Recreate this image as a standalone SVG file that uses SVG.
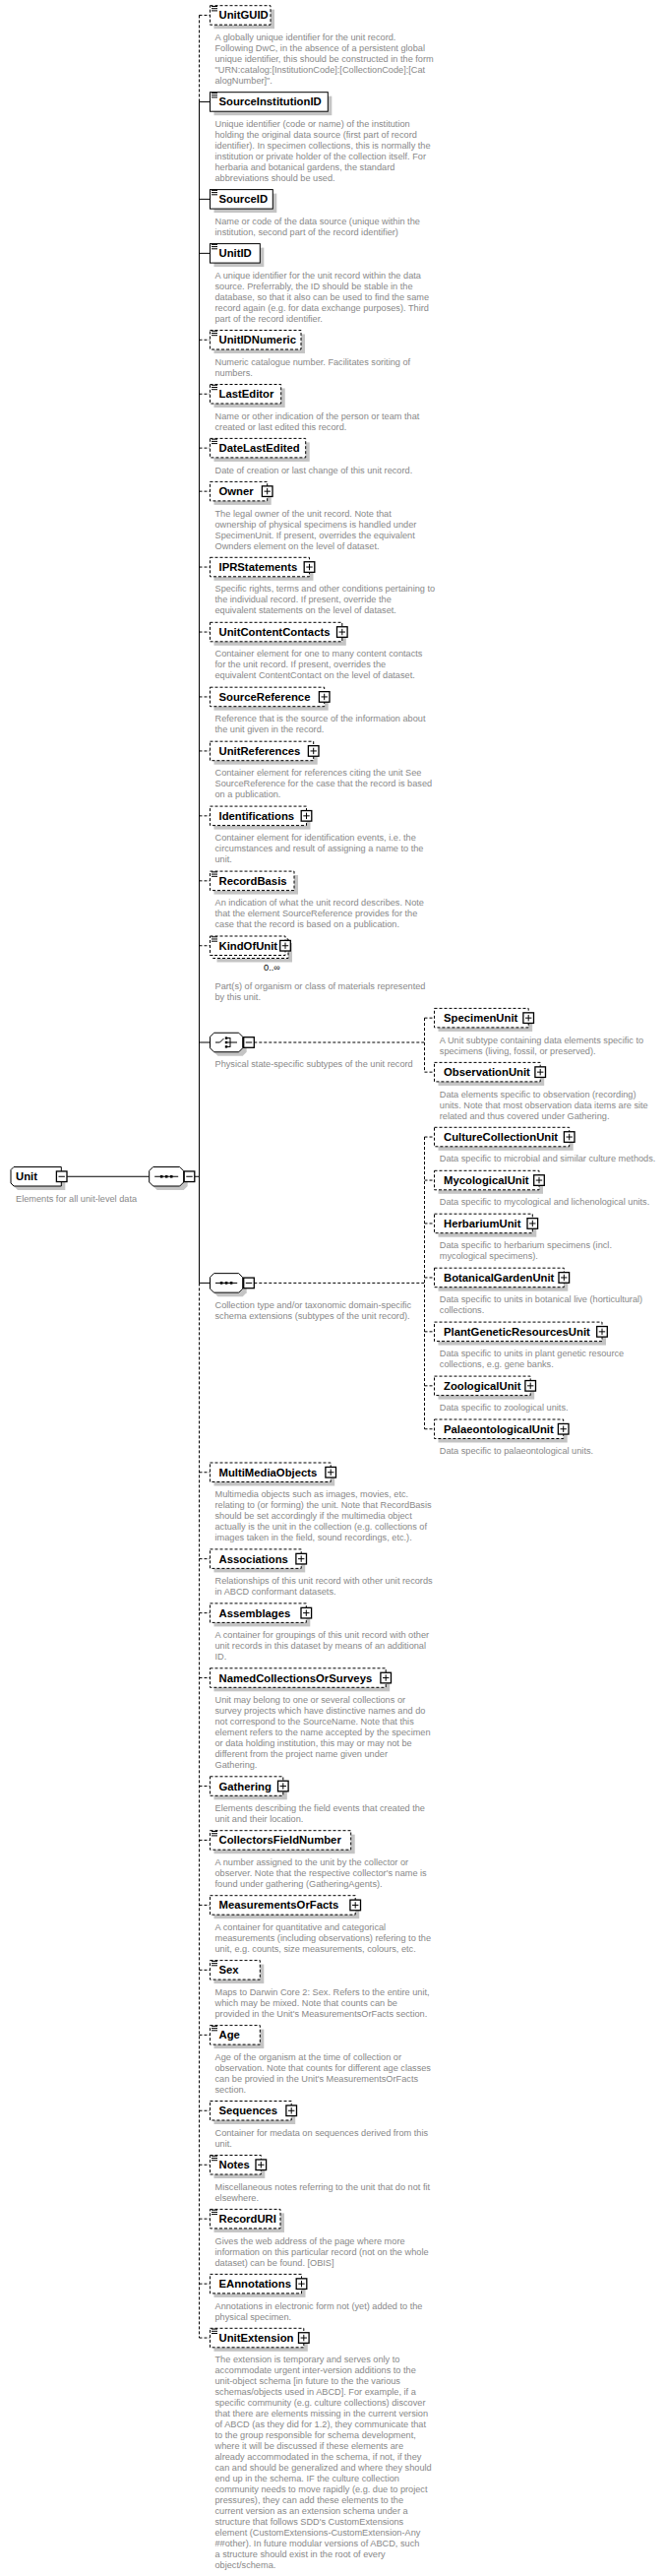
<svg xmlns="http://www.w3.org/2000/svg" width="677" height="2617" viewBox="0 0 677 2617">
<style>
.bx{fill:#fff;stroke:#000;stroke-width:1}
.o{stroke-dasharray:3,2}
.sh{fill:#c4c4c4}
.n{font-family:"Liberation Sans",Arial,sans-serif;font-weight:bold;font-size:11.3px;fill:#000}
.d{font-family:"Liberation Sans",Arial,sans-serif;font-size:9.2px;fill:#888}
.occ{font-family:"Liberation Sans",Arial,sans-serif;font-size:9.3px;fill:#000}
.ln{stroke:#000;stroke-width:1;fill:none}
.dl{stroke-dasharray:3,2}
</style>
<defs>
<g id="plus"><rect x="-5.3" y="-5.3" width="10.6" height="10.6" fill="#fff" stroke="#000" stroke-width="1.3"/><path d="M-3.2 0H3.2M0 -3.2V3.2" stroke="#000" stroke-width="1"/></g>
<g id="minus"><rect x="-5.3" y="-5.3" width="10.6" height="10.6" fill="#fff" stroke="#000" stroke-width="1.3"/><path d="M-3.2 0H3.2" stroke="#000" stroke-width="1"/></g>
<g id="doc"><path d="M0 0.5H6M0 2.7H6M0 4.9H6" stroke="#000" stroke-width="1"/></g>
</defs>

<g id="connectors">
<path class="ln dl" d="M202.5 15.45V103.45"/>
<path class="ln" d="M202.5 103.45V1303.4"/>
<path class="ln dl" d="M202.5 1303.4V2375.05"/>
<path class="ln" d="M202.5 103.45H213.5M202.5 202.35H213.5M202.5 257.35H213.5M202.5 1059H213.5M202.5 1303.4H213.5"/>
<path class="ln dl" d="M202.5 15.45H213.5M202.5 345.25H213.5M202.5 400.25H213.5M202.5 455.15H213.5M202.5 499.15H213.5M202.5 576.05H213.5M202.5 642.05H213.5M202.5 707.95H213.5M202.5 762.95H213.5M202.5 828.85H213.5M202.5 894.85H213.5M202.5 960.75H213.5M202.5 1495.75H213.5M202.5 1583.65H213.5M202.5 1638.65H213.5M202.5 1704.55H213.5M202.5 1814.55H213.5M202.5 1869.45H213.5M202.5 1935.45H213.5M202.5 2001.35H213.5M202.5 2067.35H213.5M202.5 2144.25H213.5M202.5 2199.25H213.5M202.5 2254.15H213.5M202.5 2320.15H213.5M202.5 2375.05H213.5"/>
<path class="ln dl" d="M258.3 1059H431.5M431.5 1034.15V1089.15M431.5 1034.15H441.5M431.5 1089.15H441.5"/>
<path class="ln dl" d="M258.3 1303.4H431.5M431.5 1155.05V1451.75M431.5 1155.05H441.5M431.5 1199.05H441.5M431.5 1242.95H441.5M431.5 1297.95H441.5M431.5 1352.85H441.5M431.5 1407.85H441.5M431.5 1451.75H441.5"/>
<path class="ln" d="M68.2 1195.25H151.7M198 1195.25H202.5"/>
</g>

<g id="Unit">
<path class="sh" d="M18 1189.5H66.3V1209H18L15 1206V1192.5Z"/>
<path class="bx" d="M14 1185.5H62.3V1205H14L11 1202V1188.5Z"/>
<use href="#minus" x="62.7" y="1195.25"/>
<text class="n" x="16" y="1199">Unit</text>
<text class="d" x="16" y="1220.8">Elements for all unit-level data</text>
</g>

<g id="UnitSequence">
<polygon class="sh" points="159.7,1189.5 186.7,1189.5 190.7,1193.5 190.7,1205 186.7,1209 159.7,1209 155.7,1205 155.7,1193.5"/>
<polygon class="bx" points="155.7,1185.5 182.7,1185.5 186.7,1189.5 186.7,1201 182.7,1205 155.7,1205 151.7,1201 151.7,1189.5"/>
<path class="ln" d="M157.2 1195.25H181.2"/>
<rect x="162.9" y="1194" width="2.6" height="2.6" fill="#000"/><rect x="167.9" y="1194" width="2.6" height="2.6" fill="#000"/><rect x="172.9" y="1194" width="2.6" height="2.6" fill="#000"/>
<use href="#minus" x="192.5" y="1195.25"/>
</g>

<g id="UnitGUID">
<rect class="sh" x="217.5" y="9.7" width="61.5" height="19.5"/>
<rect class="bx o" x="213.5" y="5.7" width="61.5" height="19.5"/>
<use href="#doc" x="215" y="6"/>
<text class="n" x="222.5" y="19.4">UnitGUID</text>
<text class="d" x="218.5" y="40.8"><tspan x="218.5">A globally unique identifier for the unit record.</tspan><tspan x="218.5" dy="11">Following DwC, in the absence of a persistent global</tspan><tspan x="218.5" dy="11">unique identifier, this should be constructed in the form</tspan><tspan x="218.5" dy="11">"URN:catalog:[InstitutionCode]:[CollectionCode]:[Cat</tspan><tspan x="218.5" dy="11">alogNumber]".</tspan></text>
</g>

<g id="SourceInstitutionID">
<rect class="sh" x="217.5" y="97.7" width="119.8" height="19.5"/>
<rect class="bx" x="213.5" y="93.7" width="119.8" height="19.5"/>
<use href="#doc" x="215" y="94"/>
<text class="n" x="222.5" y="107.4">SourceInstitutionID</text>
<text class="d" x="218.5" y="128.8"><tspan x="218.5">Unique identifier (code or name) of the institution</tspan><tspan x="218.5" dy="11">holding the original data source (first part of record</tspan><tspan x="218.5" dy="11">identifier). In specimen collections, this is normally the</tspan><tspan x="218.5" dy="11">institution or private holder of the collection itself. For</tspan><tspan x="218.5" dy="11">herbaria and botanical gardens, the standard</tspan><tspan x="218.5" dy="11">abbreviations should be used.</tspan></text>
</g>

<g id="SourceID">
<rect class="sh" x="217.5" y="196.6" width="63.8" height="19.5"/>
<rect class="bx" x="213.5" y="192.6" width="63.8" height="19.5"/>
<use href="#doc" x="215" y="192.9"/>
<text class="n" x="222.5" y="206.3">SourceID</text>
<text class="d" x="218.5" y="227.7"><tspan x="218.5">Name or code of the data source (unique within the</tspan><tspan x="218.5" dy="11">institution, second part of the record identifier)</tspan></text>
</g>

<g id="UnitID">
<rect class="sh" x="217.5" y="251.6" width="50.8" height="19.5"/>
<rect class="bx" x="213.5" y="247.6" width="50.8" height="19.5"/>
<use href="#doc" x="215" y="247.9"/>
<text class="n" x="222.5" y="261.3">UnitID</text>
<text class="d" x="218.5" y="282.7"><tspan x="218.5">A unique identifier for the unit record within the data</tspan><tspan x="218.5" dy="11">source. Preferrably, the ID should be stable in the</tspan><tspan x="218.5" dy="11">database, so that it also can be used to find the same</tspan><tspan x="218.5" dy="11">record again (e.g. for data exchange purposes). Third</tspan><tspan x="218.5" dy="11">part of the record identifier.</tspan></text>
</g>

<g id="UnitIDNumeric">
<rect class="sh" x="217.5" y="339.5" width="92.5" height="19.5"/>
<rect class="bx o" x="213.5" y="335.5" width="92.5" height="19.5"/>
<use href="#doc" x="215" y="335.8"/>
<text class="n" x="222.5" y="349.2">UnitIDNumeric</text>
<text class="d" x="218.5" y="370.6"><tspan x="218.5">Numeric catalogue number. Facilitates soriting of</tspan><tspan x="218.5" dy="11">numbers.</tspan></text>
</g>

<g id="LastEditor">
<rect class="sh" x="217.5" y="394.5" width="72.2" height="19.5"/>
<rect class="bx o" x="213.5" y="390.5" width="72.2" height="19.5"/>
<use href="#doc" x="215" y="390.8"/>
<text class="n" x="222.5" y="404.2">LastEditor</text>
<text class="d" x="218.5" y="425.6"><tspan x="218.5">Name or other indication of the person or team that</tspan><tspan x="218.5" dy="11">created or last edited this record.</tspan></text>
</g>

<g id="DateLastEdited">
<rect class="sh" x="217.5" y="449.4" width="97.2" height="19.5"/>
<rect class="bx o" x="213.5" y="445.4" width="97.2" height="19.5"/>
<use href="#doc" x="215" y="445.7"/>
<text class="n" x="222.5" y="459.1">DateLastEdited</text>
<text class="d" x="218.5" y="480.5">Date of creation or last change of this unit record.</text>
</g>

<g id="Owner">
<rect class="sh" x="217.5" y="493.4" width="58.2" height="19.5"/>
<rect class="bx o" x="213.5" y="489.4" width="58.2" height="19.5"/>
<text class="n" x="222.5" y="503.1">Owner</text>
<use href="#plus" x="271.7" y="499.15"/>
<text class="d" x="218.5" y="524.5"><tspan x="218.5">The legal owner of the unit record. Note that</tspan><tspan x="218.5" dy="11">ownership of physical specimens is handled under</tspan><tspan x="218.5" dy="11">SpecimenUnit. If present, overrides the equivalent</tspan><tspan x="218.5" dy="11">Ownders element on the level of dataset.</tspan></text>
</g>

<g id="IPRStatements">
<rect class="sh" x="217.5" y="570.3" width="101" height="19.5"/>
<rect class="bx o" x="213.5" y="566.3" width="101" height="19.5"/>
<text class="n" x="222.5" y="580">IPRStatements</text>
<use href="#plus" x="314.5" y="576.05"/>
<text class="d" x="218.5" y="601.4"><tspan x="218.5">Specific rights, terms and other conditions pertaining to</tspan><tspan x="218.5" dy="11">the individual record. If present, override the</tspan><tspan x="218.5" dy="11">equivalent statements on the level of dataset.</tspan></text>
</g>

<g id="UnitContentContacts">
<rect class="sh" x="217.5" y="636.3" width="134.3" height="19.5"/>
<rect class="bx o" x="213.5" y="632.3" width="134.3" height="19.5"/>
<text class="n" x="222.5" y="646">UnitContentContacts</text>
<use href="#plus" x="347.8" y="642.05"/>
<text class="d" x="218.5" y="667.4"><tspan x="218.5">Container element for one to many content contacts</tspan><tspan x="218.5" dy="11">for the unit record. If present, overrides the</tspan><tspan x="218.5" dy="11">equivalent ContentContact on the level of dataset.</tspan></text>
</g>

<g id="SourceReference">
<rect class="sh" x="217.5" y="702.2" width="116.2" height="19.5"/>
<rect class="bx o" x="213.5" y="698.2" width="116.2" height="19.5"/>
<text class="n" x="222.5" y="711.9">SourceReference</text>
<use href="#plus" x="329.7" y="707.95"/>
<text class="d" x="218.5" y="733.3"><tspan x="218.5">Reference that is the source of the information about</tspan><tspan x="218.5" dy="11">the unit given in the record.</tspan></text>
</g>

<g id="UnitReferences">
<rect class="sh" x="217.5" y="757.2" width="105.2" height="19.5"/>
<rect class="bx o" x="213.5" y="753.2" width="105.2" height="19.5"/>
<text class="n" x="222.5" y="766.9">UnitReferences</text>
<use href="#plus" x="318.7" y="762.95"/>
<text class="d" x="218.5" y="788.3"><tspan x="218.5">Container element for references citing the unit See</tspan><tspan x="218.5" dy="11">SourceReference for the case that the record is based</tspan><tspan x="218.5" dy="11">on a publication.</tspan></text>
</g>

<g id="Identifications">
<rect class="sh" x="217.5" y="823.1" width="98" height="19.5"/>
<rect class="bx o" x="213.5" y="819.1" width="98" height="19.5"/>
<text class="n" x="222.5" y="832.8">Identifications</text>
<use href="#plus" x="311.5" y="828.85"/>
<text class="d" x="218.5" y="854.2"><tspan x="218.5">Container element for identification events, i.e. the</tspan><tspan x="218.5" dy="11">circumstances and result of assigning a name to the</tspan><tspan x="218.5" dy="11">unit.</tspan></text>
</g>

<g id="RecordBasis">
<rect class="sh" x="217.5" y="889.1" width="85.5" height="19.5"/>
<rect class="bx o" x="213.5" y="885.1" width="85.5" height="19.5"/>
<use href="#doc" x="215" y="885.4"/>
<text class="n" x="222.5" y="898.8">RecordBasis</text>
<text class="d" x="218.5" y="920.2"><tspan x="218.5">An indication of what the unit record describes. Note</tspan><tspan x="218.5" dy="11">that the element SourceReference provides for the</tspan><tspan x="218.5" dy="11">case that the record is based on a publication.</tspan></text>
</g>

<g id="KindOfUnit">
<rect class="sh" x="220.5" y="958" width="76.5" height="19.5"/>
<rect class="bx o" x="216.5" y="954" width="76.5" height="19.5"/>
<rect class="bx o" x="213.5" y="951" width="76.5" height="19.5"/>
<use href="#doc" x="215" y="951.3"/>
<text class="n" x="222.5" y="964.7">KindOfUnit</text>
<use href="#plus" x="290" y="960.75"/>
<text class="occ" x="285" y="986" text-anchor="end">0..∞</text>
<text class="d" x="218.5" y="1004.7"><tspan x="218.5">Part(s) of organism or class of materials represented</tspan><tspan x="218.5" dy="11">by this unit.</tspan></text>
</g>

<g id="PhysicalStateChoice">
<polygon class="sh" points="221.5,1053.25 246.7,1053.25 250.7,1057.25 250.7,1068.75 246.7,1072.75 221.5,1072.75 217.5,1068.75 217.5,1057.25"/>
<polygon class="bx" points="217.5,1049.25 242.7,1049.25 246.7,1053.25 246.7,1064.75 242.7,1068.75 217.5,1068.75 213.5,1064.75 213.5,1053.25"/>
<path class="ln" d="M219 1059H223.5L227.5 1055"/>
<rect x="228.8" y="1053.4" width="2.4" height="2.4" fill="#000"/><rect x="228.8" y="1057.8" width="2.4" height="2.4" fill="#000"/><rect x="228.8" y="1062.2" width="2.4" height="2.4" fill="#000"/>
<path class="ln" d="M231 1054.6H234M231 1059H234M231 1063.4H234M234 1054.1V1063.9M234 1059H241"/>
<use href="#minus" x="253" y="1059"/>
<text class="d" x="218.5" y="1084.4">Physical state-specific subtypes of the unit record</text>
</g>

<g id="SpecimenUnit">
<rect class="sh" x="445.5" y="1028.4" width="95.7" height="19.5"/>
<rect class="bx o" x="441.5" y="1024.4" width="95.7" height="19.5"/>
<text class="n" x="451" y="1038.1">SpecimenUnit</text>
<use href="#plus" x="537.2" y="1034.15"/>
<text class="d" x="446.8" y="1059.5"><tspan x="446.8">A Unit subtype containing data elements specific to</tspan><tspan x="446.8" dy="11">specimens (living, fossil, or preserved).</tspan></text>
</g>

<g id="ObservationUnit">
<rect class="sh" x="445.5" y="1083.4" width="107.7" height="19.5"/>
<rect class="bx o" x="441.5" y="1079.4" width="107.7" height="19.5"/>
<text class="n" x="451" y="1093.1">ObservationUnit</text>
<use href="#plus" x="549.2" y="1089.15"/>
<text class="d" x="446.8" y="1114.5"><tspan x="446.8">Data elements specific to observation (recording)</tspan><tspan x="446.8" dy="11">units. Note that most observation data items are site</tspan><tspan x="446.8" dy="11">related and thus covered under Gathering.</tspan></text>
</g>

<g id="CultureCollectionUnit">
<rect class="sh" x="445.5" y="1149.3" width="137.2" height="19.5"/>
<rect class="bx o" x="441.5" y="1145.3" width="137.2" height="19.5"/>
<text class="n" x="451" y="1159">CultureCollectionUnit</text>
<use href="#plus" x="578.7" y="1155.05"/>
<text class="d" x="446.8" y="1180.4">Data specific to microbial and similar culture methods.</text>
</g>

<g id="MycologicalUnit">
<rect class="sh" x="445.5" y="1193.3" width="106.5" height="19.5"/>
<rect class="bx o" x="441.5" y="1189.3" width="106.5" height="19.5"/>
<text class="n" x="451" y="1203">MycologicalUnit</text>
<use href="#plus" x="548" y="1199.05"/>
<text class="d" x="446.8" y="1224.4">Data specific to mycological and lichenological units.</text>
</g>

<g id="HerbariumUnit">
<rect class="sh" x="445.5" y="1237.2" width="99.8" height="19.5"/>
<rect class="bx o" x="441.5" y="1233.2" width="99.8" height="19.5"/>
<text class="n" x="451" y="1246.9">HerbariumUnit</text>
<use href="#plus" x="541.3" y="1242.95"/>
<text class="d" x="446.8" y="1268.3"><tspan x="446.8">Data specific to herbarium specimens (incl.</tspan><tspan x="446.8" dy="11">mycological specimens).</tspan></text>
</g>

<g id="BotanicalGardenUnit">
<rect class="sh" x="445.5" y="1292.2" width="131.8" height="19.5"/>
<rect class="bx o" x="441.5" y="1288.2" width="131.8" height="19.5"/>
<text class="n" x="451" y="1301.9">BotanicalGardenUnit</text>
<use href="#plus" x="573.3" y="1297.95"/>
<text class="d" x="446.8" y="1323.3"><tspan x="446.8">Data specific to units in botanical live (horticultural)</tspan><tspan x="446.8" dy="11">collections.</tspan></text>
</g>

<g id="PlantGeneticResourcesUnit">
<rect class="sh" x="445.5" y="1347.1" width="170.5" height="19.5"/>
<rect class="bx o" x="441.5" y="1343.1" width="170.5" height="19.5"/>
<text class="n" x="451" y="1356.8">PlantGeneticResourcesUnit</text>
<use href="#plus" x="612" y="1352.85"/>
<text class="d" x="446.8" y="1378.2"><tspan x="446.8">Data specific to units in plant genetic resource</tspan><tspan x="446.8" dy="11">collections, e.g. gene banks.</tspan></text>
</g>

<g id="ZoologicalUnit">
<rect class="sh" x="445.5" y="1402.1" width="97.7" height="19.5"/>
<rect class="bx o" x="441.5" y="1398.1" width="97.7" height="19.5"/>
<text class="n" x="451" y="1411.8">ZoologicalUnit</text>
<use href="#plus" x="539.2" y="1407.85"/>
<text class="d" x="446.8" y="1433.2">Data specific to zoological units.</text>
</g>

<g id="PalaeontologicalUnit">
<rect class="sh" x="445.5" y="1446" width="131.2" height="19.5"/>
<rect class="bx o" x="441.5" y="1442" width="131.2" height="19.5"/>
<text class="n" x="451" y="1455.7">PalaeontologicalUnit</text>
<use href="#plus" x="572.7" y="1451.75"/>
<text class="d" x="446.8" y="1477.1">Data specific to palaeontological units.</text>
</g>

<g id="CollectionTypeSequence">
<polygon class="sh" points="221.5,1297.65 246.7,1297.65 250.7,1301.65 250.7,1313.15 246.7,1317.15 221.5,1317.15 217.5,1313.15 217.5,1301.65"/>
<polygon class="bx" points="217.5,1293.65 242.7,1293.65 246.7,1297.65 246.7,1309.15 242.7,1313.15 217.5,1313.15 213.5,1309.15 213.5,1297.65"/>
<path class="ln" d="M219 1303.4H241.2"/>
<rect x="223.8" y="1302.1" width="2.6" height="2.6" fill="#000"/><rect x="228.8" y="1302.1" width="2.6" height="2.6" fill="#000"/><rect x="233.8" y="1302.1" width="2.6" height="2.6" fill="#000"/>
<use href="#minus" x="253" y="1303.4"/>
<text class="d" x="218.5" y="1328.8"><tspan x="218.5">Collection type and/or taxonomic domain-specific</tspan><tspan x="218.5" dy="11">schema extensions (subtypes of the unit record).</tspan></text>
</g>

<g id="MultiMediaObjects">
<rect class="sh" x="217.5" y="1490" width="122.7" height="19.5"/>
<rect class="bx o" x="213.5" y="1486" width="122.7" height="19.5"/>
<text class="n" x="222.5" y="1499.7">MultiMediaObjects</text>
<use href="#plus" x="336.2" y="1495.75"/>
<text class="d" x="218.5" y="1521.1"><tspan x="218.5">Multimedia objects such as images, movies, etc.</tspan><tspan x="218.5" dy="11">relating to (or forming) the unit. Note that RecordBasis</tspan><tspan x="218.5" dy="11">should be set accordingly if the multimedia object</tspan><tspan x="218.5" dy="11">actually is the unit in the collection (e.g. collections of</tspan><tspan x="218.5" dy="11">images taken in the field, sound recordings, etc.).</tspan></text>
</g>

<g id="Associations">
<rect class="sh" x="217.5" y="1577.9" width="92.7" height="19.5"/>
<rect class="bx o" x="213.5" y="1573.9" width="92.7" height="19.5"/>
<text class="n" x="222.5" y="1587.6">Associations</text>
<use href="#plus" x="306.2" y="1583.65"/>
<text class="d" x="218.5" y="1609"><tspan x="218.5">Relationships of this unit record with other unit records</tspan><tspan x="218.5" dy="11">in ABCD conformant datasets.</tspan></text>
</g>

<g id="Assemblages">
<rect class="sh" x="217.5" y="1632.9" width="97.8" height="19.5"/>
<rect class="bx o" x="213.5" y="1628.9" width="97.8" height="19.5"/>
<text class="n" x="222.5" y="1642.6">Assemblages</text>
<use href="#plus" x="311.3" y="1638.65"/>
<text class="d" x="218.5" y="1664"><tspan x="218.5">A container for groupings of this unit record with other</tspan><tspan x="218.5" dy="11">unit records in this dataset by means of an additional</tspan><tspan x="218.5" dy="11">ID.</tspan></text>
</g>

<g id="NamedCollectionsOrSurveys">
<rect class="sh" x="217.5" y="1698.8" width="178.7" height="19.5"/>
<rect class="bx o" x="213.5" y="1694.8" width="178.7" height="19.5"/>
<text class="n" x="222.5" y="1708.5">NamedCollectionsOrSurveys</text>
<use href="#plus" x="392.2" y="1704.55"/>
<text class="d" x="218.5" y="1729.9"><tspan x="218.5">Unit may belong to one or several collections or</tspan><tspan x="218.5" dy="11">survey projects which have distinctive names and do</tspan><tspan x="218.5" dy="11">not correspond to the SourceName. Note that this</tspan><tspan x="218.5" dy="11">element refers to the name accepted by the specimen</tspan><tspan x="218.5" dy="11">or data holding institution, this may or may not be</tspan><tspan x="218.5" dy="11">different from the  project name given under</tspan><tspan x="218.5" dy="11">Gathering.</tspan></text>
</g>

<g id="Gathering">
<rect class="sh" x="217.5" y="1808.8" width="74.3" height="19.5"/>
<rect class="bx o" x="213.5" y="1804.8" width="74.3" height="19.5"/>
<text class="n" x="222.5" y="1818.5">Gathering</text>
<use href="#plus" x="287.8" y="1814.55"/>
<text class="d" x="218.5" y="1839.9"><tspan x="218.5">Elements describing the field events that created the</tspan><tspan x="218.5" dy="11">unit and their location.</tspan></text>
</g>

<g id="CollectorsFieldNumber">
<rect class="sh" x="217.5" y="1863.7" width="143.2" height="19.5"/>
<rect class="bx o" x="213.5" y="1859.7" width="143.2" height="19.5"/>
<use href="#doc" x="215" y="1860"/>
<text class="n" x="222.5" y="1873.4">CollectorsFieldNumber</text>
<text class="d" x="218.5" y="1894.8"><tspan x="218.5">A number assigned to the unit by the collector or</tspan><tspan x="218.5" dy="11">observer. Note that the respective collector's name is</tspan><tspan x="218.5" dy="11">found under gathering (GatheringAgents).</tspan></text>
</g>

<g id="MeasurementsOrFacts">
<rect class="sh" x="217.5" y="1929.7" width="147.7" height="19.5"/>
<rect class="bx o" x="213.5" y="1925.7" width="147.7" height="19.5"/>
<text class="n" x="222.5" y="1939.4">MeasurementsOrFacts</text>
<use href="#plus" x="361.2" y="1935.45"/>
<text class="d" x="218.5" y="1960.8"><tspan x="218.5">A container for quantitative and categorical</tspan><tspan x="218.5" dy="11">measurements (including observations) refering to the</tspan><tspan x="218.5" dy="11">unit, e.g. counts, size measurements, colours, etc.</tspan></text>
</g>

<g id="Sex">
<rect class="sh" x="217.5" y="1995.6" width="50.8" height="19.5"/>
<rect class="bx o" x="213.5" y="1991.6" width="50.8" height="19.5"/>
<use href="#doc" x="215" y="1991.9"/>
<text class="n" x="222.5" y="2005.3">Sex</text>
<text class="d" x="218.5" y="2026.7"><tspan x="218.5">Maps to Darwin Core 2: Sex. Refers to the entire unit,</tspan><tspan x="218.5" dy="11">which may be mixed. Note that counts can be</tspan><tspan x="218.5" dy="11">provided in the Unit's MeasurementsOrFacts section.</tspan></text>
</g>

<g id="Age">
<rect class="sh" x="217.5" y="2061.6" width="50.8" height="19.5"/>
<rect class="bx o" x="213.5" y="2057.6" width="50.8" height="19.5"/>
<use href="#doc" x="215" y="2057.9"/>
<text class="n" x="222.5" y="2071.3">Age</text>
<text class="d" x="218.5" y="2092.7"><tspan x="218.5">Age of the organism at the time of collection or</tspan><tspan x="218.5" dy="11">observation. Note that counts for different age classes</tspan><tspan x="218.5" dy="11">can be provied in the Unit's MeasurementsOrFacts</tspan><tspan x="218.5" dy="11">section.</tspan></text>
</g>

<g id="Sequences">
<rect class="sh" x="217.5" y="2138.5" width="82.7" height="19.5"/>
<rect class="bx o" x="213.5" y="2134.5" width="82.7" height="19.5"/>
<text class="n" x="222.5" y="2148.2">Sequences</text>
<use href="#plus" x="296.2" y="2144.25"/>
<text class="d" x="218.5" y="2169.6"><tspan x="218.5">Container for medata on sequences derived from this</tspan><tspan x="218.5" dy="11">unit.</tspan></text>
</g>

<g id="Notes">
<rect class="sh" x="217.5" y="2193.5" width="51.8" height="19.5"/>
<rect class="bx o" x="213.5" y="2189.5" width="51.8" height="19.5"/>
<use href="#doc" x="215" y="2189.8"/>
<text class="n" x="222.5" y="2203.2">Notes</text>
<use href="#plus" x="265.3" y="2199.25"/>
<text class="d" x="218.5" y="2224.6"><tspan x="218.5">Miscellaneous notes referring to the unit that do not fit</tspan><tspan x="218.5" dy="11">elsewhere.</tspan></text>
</g>

<g id="RecordURI">
<rect class="sh" x="217.5" y="2248.4" width="71.5" height="19.5"/>
<rect class="bx o" x="213.5" y="2244.4" width="71.5" height="19.5"/>
<use href="#doc" x="215" y="2244.7"/>
<text class="n" x="222.5" y="2258.1">RecordURI</text>
<text class="d" x="218.5" y="2279.5"><tspan x="218.5">Gives the web address of the page where more</tspan><tspan x="218.5" dy="11">information on this particular record (not on the whole</tspan><tspan x="218.5" dy="11">dataset) can be found. [OBIS]</tspan></text>
</g>

<g id="EAnnotations">
<rect class="sh" x="217.5" y="2314.4" width="93" height="19.5"/>
<rect class="bx o" x="213.5" y="2310.4" width="93" height="19.5"/>
<text class="n" x="222.5" y="2324.1">EAnnotations</text>
<use href="#plus" x="306.5" y="2320.15"/>
<text class="d" x="218.5" y="2345.5"><tspan x="218.5">Annotations in electronic form not (yet) added to the</tspan><tspan x="218.5" dy="11">physical specimen.</tspan></text>
</g>

<g id="UnitExtension">
<rect class="sh" x="217.5" y="2369.3" width="95.3" height="19.5"/>
<rect class="bx o" x="213.5" y="2365.3" width="95.3" height="19.5"/>
<use href="#doc" x="215" y="2365.6"/>
<text class="n" x="222.5" y="2379">UnitExtension</text>
<use href="#plus" x="308.8" y="2375.05"/>
<text class="d" x="218.5" y="2400.4"><tspan x="218.5">The extension is temporary and serves only to</tspan><tspan x="218.5" dy="11">accommodate urgent inter-version additions to the</tspan><tspan x="218.5" dy="11">unit-object schema [in future to the the various</tspan><tspan x="218.5" dy="11">schemas/objects used in ABCD]. For example, if a</tspan><tspan x="218.5" dy="11">specific community (e.g. culture collections) discover</tspan><tspan x="218.5" dy="11">that there are elements missing in the current version</tspan><tspan x="218.5" dy="11">of ABCD (as they did for 1.2), they communicate that</tspan><tspan x="218.5" dy="11">to the group responsible for schema development,</tspan><tspan x="218.5" dy="11">where it will be discussed if these elements are</tspan><tspan x="218.5" dy="11">already accommodated in the schema, if not, if they</tspan><tspan x="218.5" dy="11">can and should be generalized and where they should</tspan><tspan x="218.5" dy="11">end up in the schema. IF the culture collection</tspan><tspan x="218.5" dy="11">community needs to move rapidly (e.g. due to project</tspan><tspan x="218.5" dy="11">pressures), they can add these elements to the</tspan><tspan x="218.5" dy="11">current version as an extension schema under a</tspan><tspan x="218.5" dy="11">structure that follows SDD's CustomExtensions</tspan><tspan x="218.5" dy="11">element (CustomExtensions-CustomExtension-Any</tspan><tspan x="218.5" dy="11">##other). In future modular versions of ABCD, such</tspan><tspan x="218.5" dy="11">a structure should exist in the root of every</tspan><tspan x="218.5" dy="11">object/schema.</tspan></text>
</g>
</svg>
